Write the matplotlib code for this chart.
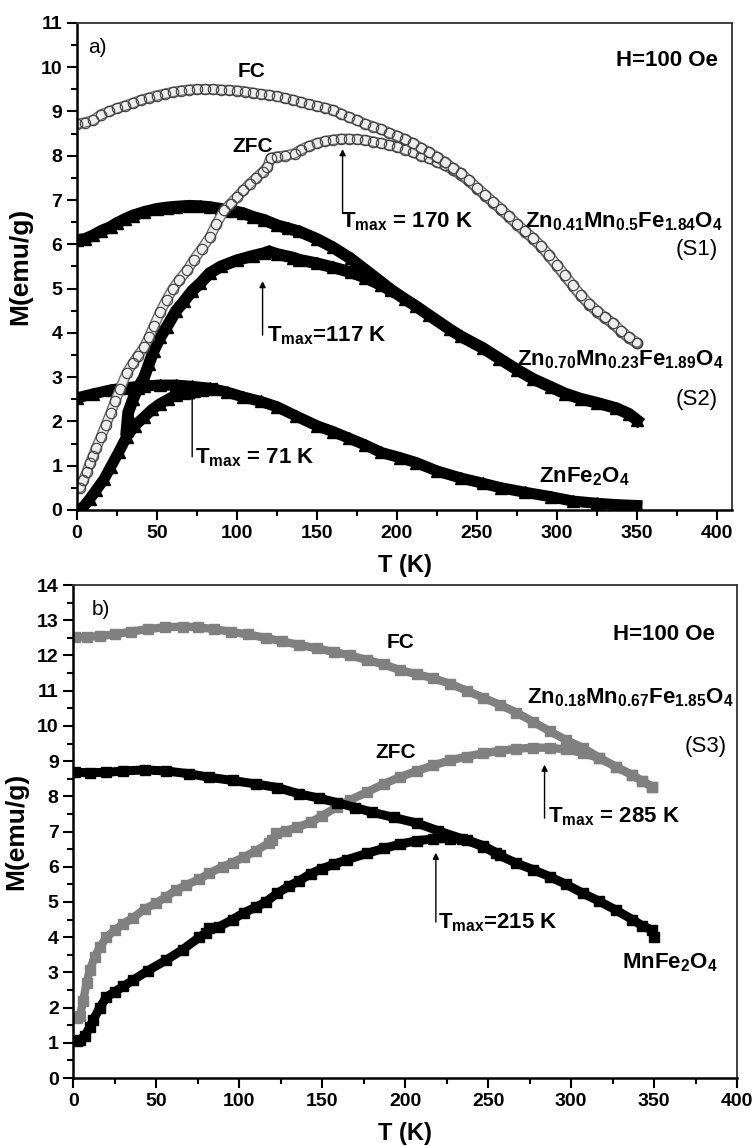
import matplotlib
matplotlib.use("Agg")
import matplotlib.pyplot as plt
from matplotlib.ticker import MultipleLocator

plt.rcParams['font.family'] = ['Liberation Sans', 'DejaVu Sans']
plt.rcParams['font.weight'] = 'bold'
plt.rcParams['mathtext.fontset'] = 'custom'
plt.rcParams['mathtext.rm'] = 'Liberation Sans'
plt.rcParams['mathtext.bf'] = 'Liberation Sans:bold'
plt.rcParams['mathtext.it'] = 'Liberation Sans:italic'

# ---- panel a) ----
# Zn0.41Mn0.5Fe1.84O4 (S1), open circles
fc1_T = [0, 5, 10, 15, 20, 25, 30, 35, 40, 45, 50, 55, 60, 65, 70, 75, 80, 85, 90, 95, 100,
         105, 110, 115, 120, 125, 130, 135, 140, 145, 150, 155, 160, 165, 170, 175, 180, 185,
         190, 195, 200, 205, 210, 215, 220, 225, 230, 235, 240, 245, 250, 255, 260, 265, 270,
         275, 280, 285, 290, 295, 300, 305, 310, 315, 320, 325, 330, 335, 340, 345, 350]
fc1_M = [8.72, 8.75, 8.8, 8.93, 9.0, 9.07, 9.13, 9.19, 9.26, 9.31, 9.36, 9.4, 9.44, 9.47, 9.49,
         9.5, 9.5, 9.5, 9.49, 9.48, 9.47, 9.45, 9.42, 9.39, 9.37, 9.34, 9.3, 9.26, 9.21, 9.16,
         9.12, 9.08, 9.03, 8.95, 8.87, 8.8, 8.72, 8.66, 8.6, 8.52, 8.45, 8.37, 8.28, 8.18, 8.08,
         7.97, 7.85, 7.72, 7.6, 7.45, 7.28, 7.12, 6.96, 6.8, 6.63, 6.46, 6.3, 6.14, 5.97, 5.75,
         5.53, 5.3, 5.07, 4.85, 4.66, 4.5, 4.35, 4.22, 4.05, 3.9, 3.78]
zfc1_T = [2, 4, 6, 8, 10, 12, 15, 18, 21, 24, 27, 31, 35, 38, 42, 45, 48, 52, 56, 60, 64, 69,
          73, 78, 83, 87, 92, 96, 100, 104, 108, 112, 116, 119, 121, 125, 130, 136, 140, 145,
          150, 155, 160, 165, 170, 175, 180, 185, 190, 195, 200, 205, 210, 215, 220, 225, 230,
          235, 240, 245, 250, 255, 260, 265, 270, 275, 280, 285, 290, 295, 300, 305, 310, 315,
          320, 325, 330, 335, 340, 345, 350]
zfc1_M = [0.5, 0.68, 0.85, 1.05, 1.22, 1.4, 1.65, 1.92, 2.19, 2.47, 2.74, 3.09, 3.32, 3.48,
          3.68, 3.9, 4.15, 4.47, 4.75, 5.0, 5.2, 5.42, 5.65, 5.9, 6.16, 6.45, 6.77, 6.92, 7.07,
          7.22, 7.37, 7.5, 7.63, 7.74, 7.95, 7.98, 8.0, 8.05, 8.14, 8.22, 8.28, 8.33, 8.36,
          8.38, 8.38, 8.37, 8.35, 8.32, 8.28, 8.24, 8.2, 8.14, 8.08, 8.0, 7.94, 7.86, 7.78,
          7.68, 7.56, 7.42, 7.26, 7.1, 6.94, 6.78, 6.61, 6.44, 6.28, 6.12, 5.95, 5.73, 5.51,
          5.28, 5.05, 4.83, 4.64, 4.48, 4.33, 4.2, 4.03, 3.88, 3.76]

# Zn0.70Mn0.23Fe1.89O4 (S2), filled triangles
fc2_T = [0, 5, 10, 15, 21, 25, 30, 35, 42, 50, 56, 62, 70, 77, 83, 90, 97, 104, 110, 117, 125,
         132, 139, 150, 160, 171, 180, 190, 196, 205, 212, 220, 233, 240, 254, 264, 275,
         285, 296, 305, 315, 325, 337, 345, 350]
fc2_M = [6.1, 6.12, 6.2, 6.3, 6.39, 6.48, 6.57, 6.65, 6.73, 6.8, 6.83, 6.85, 6.87, 6.86, 6.84,
         6.8, 6.76, 6.7, 6.62, 6.55, 6.43, 6.36, 6.29, 6.12, 5.93, 5.68, 5.43, 5.15, 4.98,
         4.76, 4.6, 4.4, 4.08, 3.92, 3.65, 3.42, 3.17, 2.96, 2.78, 2.63, 2.51, 2.42, 2.3, 2.17,
         2.03]
zfc2_T = [31, 32, 35, 38, 42, 45, 48, 52, 56, 62, 67, 72, 77, 83, 90, 100, 110, 117, 120, 125,
          135, 139, 150, 160, 171, 180, 190, 196]
zfc2_M = [1.8, 2.2, 2.5, 2.75, 3.0, 3.3, 3.6, 3.9, 4.13, 4.5, 4.72, 4.95, 5.12, 5.35, 5.5,
          5.64, 5.74, 5.8, 5.84, 5.78, 5.7, 5.65, 5.57, 5.48, 5.37, 5.25, 5.08, 4.96]

# ZnFe2O4, filled triangles
fc3_T = [0, 10, 21, 30, 42, 52, 62, 72, 83, 94, 104, 115, 125, 137, 150, 160, 170, 180, 190,
         202, 212, 225, 240, 254, 265, 280, 296, 310, 325, 337, 350]
fc3_M = [2.53, 2.62, 2.71, 2.76, 2.8, 2.82, 2.82, 2.79, 2.75, 2.66, 2.55, 2.45, 2.33, 2.12, 1.9,
         1.77, 1.62, 1.47, 1.3, 1.18, 1.07, 0.88, 0.72, 0.6, 0.5, 0.4, 0.3, 0.2, 0.15, 0.12, 0.1]
zfc3_T = [2, 4, 8, 12, 17, 21, 26, 31, 36, 42, 47, 52, 57, 62, 67, 73, 78, 85]
zfc3_M = [0.03, 0.07, 0.25, 0.45, 0.7, 0.97, 1.3, 1.65, 1.9, 2.1, 2.27, 2.4, 2.5, 2.6, 2.65,
          2.69, 2.72, 2.74]

# ---- panel b) ----
# Zn0.18Mn0.67Fe1.85O4 (S3), grey squares
fc4_T = [1, 8, 16, 25, 35, 45, 55, 66, 75, 85, 95, 105, 116, 126, 136, 147, 157, 167, 177, 187,
         197, 207, 217, 227, 237, 247, 257, 267, 277, 287, 297, 307, 317, 327, 337, 343, 349]
fc4_M = [12.52, 12.53, 12.55, 12.6, 12.68, 12.75, 12.8, 12.82, 12.8, 12.75, 12.67, 12.6, 12.5,
         12.4, 12.3, 12.2, 12.1, 12.0, 11.87, 11.75, 11.58, 11.47, 11.35, 11.2, 11.0, 10.8,
         10.6, 10.38, 10.12, 9.85, 9.6, 9.38, 9.1, 8.84, 8.6, 8.43, 8.27]
zfc4_T = [2, 4, 6, 8, 10, 13, 16, 20, 25, 30, 36, 43, 50, 56, 62, 68, 76, 82, 90, 96, 103, 110,
          118, 120, 122, 128, 135, 143, 150, 159, 167, 177, 187, 197, 207, 217, 227, 237, 247,
          257, 267, 277, 287, 297, 307, 317, 327, 337, 343, 349]
zfc4_M = [1.7, 1.75, 2.2, 2.7, 3.07, 3.45, 3.72, 4.0, 4.2, 4.38, 4.55, 4.8, 4.97, 5.15, 5.34,
          5.48, 5.65, 5.82, 6.0, 6.12, 6.28, 6.45, 6.68, 6.75, 6.95, 7.02, 7.12, 7.26, 7.45,
          7.7, 7.9, 8.12, 8.35, 8.55, 8.72, 8.88, 9.02, 9.13, 9.22, 9.29, 9.35, 9.38, 9.38,
          9.33, 9.23, 9.08, 8.84, 8.6, 8.43, 8.27]

# MnFe2O4, black squares
fc5_T = [1, 10, 20, 30, 43, 56, 70, 82, 96, 110, 123, 136, 148, 159, 170, 180, 193, 207, 220,
         234, 247, 257, 267, 277, 287, 297, 307, 317, 327, 337, 343, 349, 350]
fc5_M = [8.68, 8.67, 8.68, 8.72, 8.75, 8.72, 8.64, 8.54, 8.45, 8.35, 8.25, 8.07, 7.95, 7.82,
         7.68, 7.55, 7.4, 7.24, 7.02, 6.8, 6.57, 6.32, 6.1, 5.92, 5.72, 5.5, 5.25, 5.02, 4.77,
         4.5, 4.32, 4.2, 4.0]
zfc5_T = [2, 4, 7, 10, 12, 16, 20, 25, 30, 36, 45, 56, 66, 76, 80, 82, 88, 96, 103, 110, 116,
          123, 130, 136, 143, 150, 157, 165, 177, 187, 197, 207, 217, 227, 237, 247, 255]
zfc5_M = [1.05, 1.08, 1.2, 1.45, 1.65, 2.0, 2.3, 2.45, 2.6, 2.78, 3.05, 3.35, 3.65, 4.0, 4.12,
          4.26, 4.3, 4.5, 4.7, 4.85, 5.0, 5.25, 5.45, 5.6, 5.8, 5.95, 6.07, 6.2, 6.38, 6.52,
          6.64, 6.74, 6.79, 6.8, 6.77, 6.6, 6.4]

GREY = '#808080'

fig = plt.figure(figsize=(7.54, 11.46), dpi=100)
ax1 = fig.add_axes([0.1021, 0.555, 0.8687, 0.425])
ax2 = fig.add_axes([0.0972, 0.0593, 0.8803, 0.4302])


def style(ax, xmax, ymax):
    ax.set_xlim(0, xmax)
    ax.set_ylim(0, ymax)
    ax.xaxis.set_major_locator(MultipleLocator(50))
    ax.xaxis.set_minor_locator(MultipleLocator(25))
    ax.yaxis.set_major_locator(MultipleLocator(1))
    ax.yaxis.set_minor_locator(MultipleLocator(0.5))
    ax.tick_params(which='both', direction='out', top=False, right=False, width=1.5)
    ax.tick_params(which='major', length=7, labelsize=14)
    ax.tick_params(which='minor', length=4)
    for s in ['left', 'bottom']:
        ax.spines[s].set_linewidth(1.8)
    for s in ['top', 'right']:
        ax.spines[s].set_linewidth(1.3)
        ax.spines[s].set_color('#333333')
    ax.set_xlabel('T (K)', fontsize=17, fontweight='bold', labelpad=9)
    ax.set_ylabel('M(emu/g)', fontsize=19, fontweight='bold', labelpad=6)


def circles(ax, T, M):
    # dense open circles: grey tube underneath, circle outlines on top
    ax.plot(T, M, '-', color='#6a6a6a', lw=7.6, solid_capstyle='round')
    ax.plot(T, M, '-', color='#eeeeee', lw=5.6, solid_capstyle='round')
    ax.plot(T, M, 'o', mfc='none', mec='#3c3c3c', mew=0.8, ms=7.5, ls='none')


# panel a curves
ax1.plot(fc3_T, fc3_M, '-^', color='k', lw=8, ms=8)
ax1.plot(zfc3_T, zfc3_M, '-^', color='k', lw=8, ms=8)
ax1.plot(fc2_T, fc2_M, '-^', color='k', lw=8.5, ms=8)
ax1.plot(zfc2_T, zfc2_M, '-^', color='k', lw=8.5, ms=8)
circles(ax1, zfc1_T, zfc1_M)
circles(ax1, fc1_T, fc1_M)
style(ax1, 409.4, 11)

arrow = dict(arrowstyle='-|>', color='k', lw=1.0, mutation_scale=9, shrinkA=0, shrinkB=0)
ax1.text(7, 10.45, 'a)', fontsize=15, fontweight='normal', va='center')
ax1.text(109, 9.9, 'FC', fontsize=15, ha='center', va='center')
ax1.text(110, 8.2, 'ZFC', fontsize=15, ha='center', va='center')
ax1.text(400.5, 10.16, 'H=100 Oe', fontsize=16, ha='right', va='center')
ax1.annotate('', xy=(166, 8.15), xytext=(166, 6.7), arrowprops=arrow)
ax1.text(165, 6.39, r'$\mathbf{T}_{\mathrm{max}}$ = 170 K', fontsize=16, va='baseline')
ax1.annotate('', xy=(116, 5.17), xytext=(116, 3.95), arrowprops=arrow)
ax1.text(119, 3.8, r'$\mathbf{T}_{\mathrm{max}}$=117 K', fontsize=16, va='baseline')
ax1.annotate('', xy=(72, 2.66), xytext=(72, 1.2), arrowprops=arrow)
ax1.text(74, 1.06, r'$\mathbf{T}_{\mathrm{max}}$ = 71 K', fontsize=16, va='baseline')
ax1.text(404, 6.39, r'$\mathbf{Zn}_{\mathbf{0.41}}\mathbf{Mn}_{\mathbf{0.5}}'
         r'\mathbf{Fe}_{\mathbf{1.84}}\mathbf{O}_{\mathbf{4}}$',
         fontsize=16, ha='right', va='baseline')
ax1.text(400.5, 5.76, '(S1)', fontsize=16, fontweight='normal', ha='right', va='baseline')
ax1.text(404, 3.27, r'$\mathbf{Zn}_{\mathbf{0.70}}\mathbf{Mn}_{\mathbf{0.23}}'
         r'\mathbf{Fe}_{\mathbf{1.89}}\mathbf{O}_{\mathbf{4}}$',
         fontsize=16, ha='right', va='baseline')
ax1.text(400.5, 2.37, '(S2)', fontsize=16, fontweight='normal', ha='right', va='baseline')
ax1.text(289, 0.63, r'$\mathbf{ZnFe}_{\mathbf{2}}\mathbf{O}_{\mathbf{4}}$',
         fontsize=16, va='baseline')

# panel b curves
ax2.plot(zfc4_T, zfc4_M, '-s', color=GREY, lw=6, ms=7)
ax2.plot(fc4_T, fc4_M, '-s', color=GREY, lw=6, ms=7)
ax2.plot(zfc5_T, zfc5_M, '-s', color='k', lw=6.5, ms=7)
ax2.plot(fc5_T, fc5_M, '-s', color='k', lw=6.5, ms=7)
style(ax2, 400, 14)

ax2.text(11, 13.3, 'b)', fontsize=15, fontweight='normal', va='center')
ax2.text(189, 12.2, 'FC', fontsize=15, va='baseline')
ax2.text(182, 9.09, 'ZFC', fontsize=15, va='baseline')
ax2.text(386.5, 12.44, 'H=100 Oe', fontsize=16, ha='right', va='baseline')
ax2.text(398, 10.65, r'$\mathbf{Zn}_{\mathbf{0.18}}\mathbf{Mn}_{\mathbf{0.67}}'
         r'\mathbf{Fe}_{\mathbf{1.85}}\mathbf{O}_{\mathbf{4}}$',
         fontsize=16, ha='right', va='baseline')
ax2.text(394, 9.26, '(S3)', fontsize=16, fontweight='normal', ha='right', va='baseline')
ax2.annotate('', xy=(284, 8.9), xytext=(284, 7.38), arrowprops=arrow)
ax2.text(286, 7.27, r'$\mathbf{T}_{\mathrm{max}}$ = 285 K', fontsize=16, va='baseline')
ax2.annotate('', xy=(218.5, 6.4), xytext=(218.5, 4.43), arrowprops=arrow)
ax2.text(220, 4.26, r'$\mathbf{T}_{\mathrm{max}}$=215 K', fontsize=16, va='baseline')
ax2.text(330.5, 3.12, r'$\mathbf{MnFe}_{\mathbf{2}}\mathbf{O}_{\mathbf{4}}$',
         fontsize=16, va='baseline')

fig.savefig('out.png', dpi=100)
